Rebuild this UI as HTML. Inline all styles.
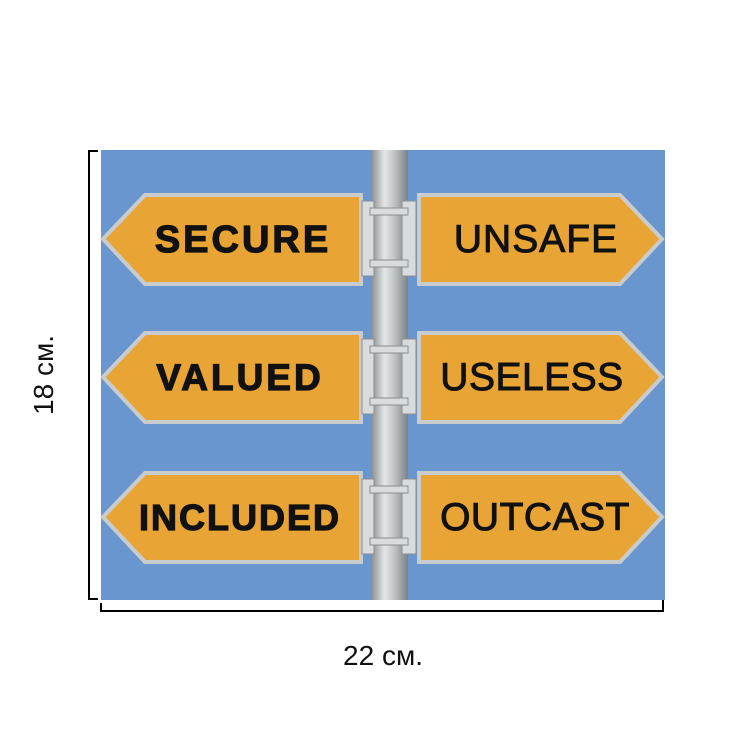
<!DOCTYPE html>
<html><head><style>body{margin:0;background:#fff}svg{display:block}</style></head><body>
<svg width="750" height="750" viewBox="0 0 750 750" xmlns="http://www.w3.org/2000/svg">
<defs>
<linearGradient id="pole" x1="0" x2="1" y1="0" y2="0">
<stop offset="0" stop-color="#8e9294"/><stop offset="0.35" stop-color="#e4e6e6"/><stop offset="0.6" stop-color="#c4c7c8"/><stop offset="1" stop-color="#7d8183"/>
</linearGradient>
</defs>
<rect x="101" y="150" width="564" height="450" fill="#6a96cf"/>
<rect x="372" y="150" width="36" height="450" fill="url(#pole)"/>
<g fill="#e8a535" stroke="#c9cccc" stroke-width="4">
<polygon points="103,239 145,195 361,195 361,284 145,284"/>
<polygon points="103,377 145,333 361,333 361,422 145,422"/>
<polygon points="103,517 145,473 361,473 361,562 145,562"/>
<polygon points="419,195 620,195 662,239 620,284 419,284"/>
<polygon points="419,333 620,333 662,377 620,422 419,422"/>
<polygon points="419,473 620,473 662,517 620,562 419,562"/>
</g>
<g fill="#d9dcdc" stroke="#8a8e90" stroke-width="1">
<rect x="362" y="201" width="12" height="75"/><rect x="402" y="201" width="14" height="75"/>
<rect x="370" y="208" width="38" height="7"/><rect x="370" y="260" width="38" height="7"/>
<rect x="362" y="339" width="12" height="75"/><rect x="402" y="339" width="14" height="75"/>
<rect x="370" y="346" width="38" height="7"/><rect x="370" y="398" width="38" height="7"/>
<rect x="362" y="479" width="12" height="75"/><rect x="402" y="479" width="14" height="75"/>
<rect x="370" y="486" width="38" height="7"/><rect x="370" y="538" width="38" height="7"/>
</g>
<g font-family="Liberation Sans, sans-serif" font-weight="bold" fill="#111" stroke="#111" stroke-width="1.2" text-anchor="middle">
<text x="243" y="252" font-size="38" letter-spacing="3">SECURE</text>
<text x="240" y="390" font-size="37" letter-spacing="3">VALUED</text>
<text x="240" y="530" font-size="36" letter-spacing="2">INCLUDED</text>
</g>
<g font-family="Liberation Sans, sans-serif" fill="#111" stroke="#111" stroke-width="1" text-anchor="middle" font-size="39">
<text x="536" y="252" letter-spacing="1">UNSAFE</text>
<text x="532" y="390" letter-spacing="0.5">USELESS</text>
<text x="535" y="530" letter-spacing="0.5">OUTCAST</text>
</g>
<g stroke="#000" stroke-width="2" fill="none">
<polyline points="98,151 89,151 89,599 98,599"/>
<polyline points="101,603 101,611 663,611 663,600"/>
</g>
<text x="383" y="665" font-family="Liberation Sans, sans-serif" font-size="28" text-anchor="middle" fill="#111">22 см.</text>
<text transform="translate(53,375) rotate(-90)" font-family="Liberation Sans, sans-serif" font-size="28" text-anchor="middle" fill="#111">18 см.</text>
</svg>
</body></html>
